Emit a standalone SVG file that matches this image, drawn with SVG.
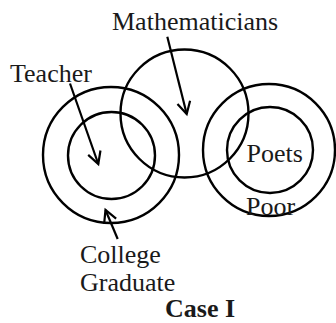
<svg xmlns="http://www.w3.org/2000/svg" width="336" height="323" viewBox="0 0 336 323">
<style>
.c{fill:none;stroke:#000;stroke-width:2.4}
.t{font-family:"Liberation Serif","Times New Roman",serif;font-size:26px;fill:#1a1a1a}
.b{font-weight:bold}
.a{fill:none;stroke:#000;stroke-width:2.2}
</style>
<defs>
<marker id="v" markerUnits="userSpaceOnUse" markerWidth="16" markerHeight="16" viewBox="-13 -8 16 16" refX="0" refY="0" orient="auto">
<path d="M-12,-6.5 L0,0 L-12,6.5" fill="none" stroke="#000" stroke-width="2.2"/>
</marker>
</defs>
<rect width="336" height="323" fill="#fff"/>
<g id="college-graduate"><circle class="c" cx="111" cy="155" r="68"/></g>
<g id="teacher"><circle class="c" cx="111.5" cy="155.5" r="43.5"/></g>
<g id="mathematicians"><circle class="c" cx="184.5" cy="113.5" r="64"/></g>
<g id="poor"><circle class="c" cx="269" cy="150" r="66"/></g>
<g id="poets"><circle class="c" cx="270" cy="150" r="43"/></g>
<g id="labels">
<text class="t" x="112" y="30">Mathematicians</text>
<text class="t" x="10" y="82">Teacher</text>
<text class="t" x="246.5" y="162">Poets</text>
<text class="t" x="246" y="215">Poor</text>
<text class="t" x="80" y="263">College</text>
<text class="t" x="80" y="291">Graduate</text>
<text class="t b" x="165" y="317">Case I</text>
</g>
<g id="connectors">
<line class="a" x1="167.3" y1="36.7" x2="186.7" y2="114" marker-end="url(#v)"/>
<line class="a" x1="70" y1="83.5" x2="98.3" y2="164" marker-end="url(#v)"/>
<line class="a" x1="117.7" y1="239" x2="105.5" y2="210" marker-end="url(#v)"/>
</g>
</svg>
